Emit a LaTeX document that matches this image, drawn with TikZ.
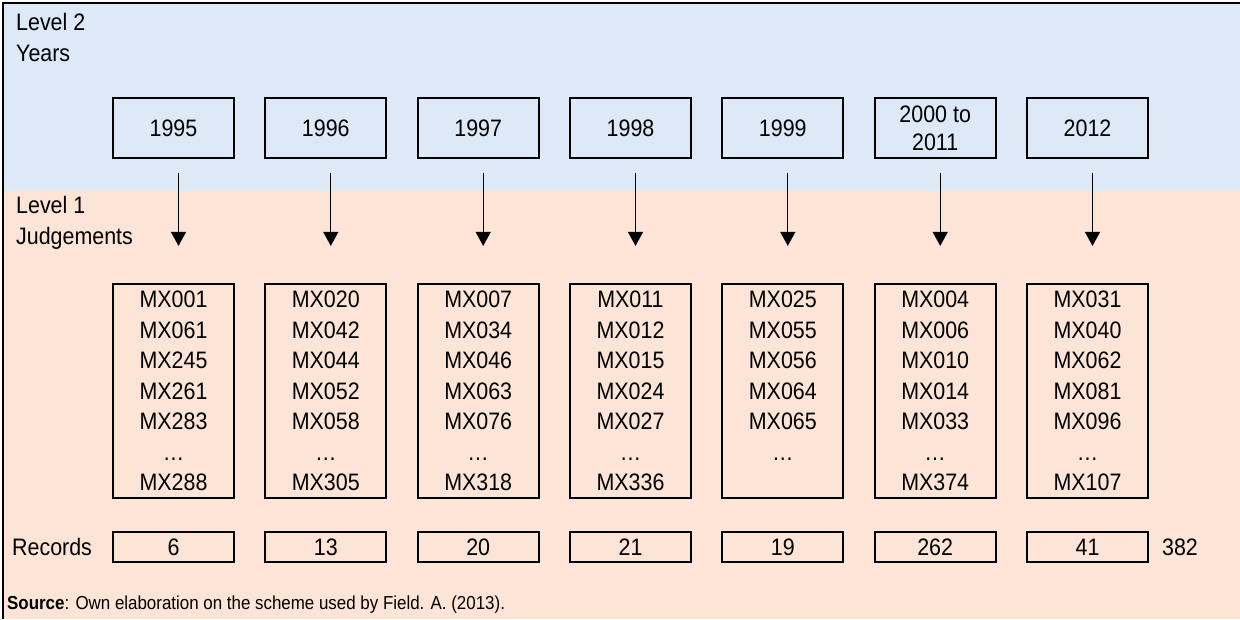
\documentclass[tikz,border=0pt]{standalone}
\usepackage{fontspec}
\setmainfont{Liberation Sans}[FakeStretch=0.9]
\usetikzlibrary{arrows.meta}

\definecolor{yearblue}{HTML}{DDE9F6}
\definecolor{judgepeach}{HTML}{FCE4D7}

\tikzset{
  yearbox/.style={draw, line width=2.2pt, minimum width=121pt, minimum height=60pt,
    inner sep=0pt, align=center, font=\fontsize{23.8}{28}\selectfont},
  judgebox/.style={draw, line width=2.2pt, minimum width=121pt, minimum height=214pt,
    inner sep=0pt, align=center, font=\fontsize{23.8}{30.5}\selectfont},
  recbox/.style={draw, line width=2.2pt, minimum width=121pt, minimum height=30pt,
    inner sep=0pt, font=\fontsize{23.8}{26}\selectfont},
  levellabel/.style={anchor=west, align=left, inner sep=0pt, font=\fontsize{23.8}{31}\selectfont},
  yeararrow/.style={-{Triangle[width=15pt,length=14pt]}, line width=1.3pt,
    shorten <=14pt, shorten >=37pt}
}

\begin{document}
\begin{tikzpicture}[x=1pt,y=-1pt]
\useasboundingbox (0,0) rectangle (1240,619);

%Bands
\fill[yearblue] (3,3) rectangle (1240,191);
\fill[judgepeach] (3,191) rectangle (1240,619);
\draw[line width=2.5pt] (3,619) -- (3,3) -- (1240,3);

%Labels
\node[levellabel] (level2) at (16,37) {Level 2\\Years};
\node[levellabel] (level1) at (16,223) {Level 1\\Judgements};
\node[levellabel] (records) at (12,547) {Records};

%Nodes
\node[yearbox] (yr1995) at (173.5,128) {1995};
\node[judgebox] (mx1995) at (173.5,391) {MX001\\MX061\\MX245\\MX261\\MX283\\…\\MX288};
\node[recbox] (rec1995) at (173.5,547) {6};

\node[yearbox] (yr1996) at (325.8,128) {1996};
\node[judgebox] (mx1996) at (325.8,391) {MX020\\MX042\\MX044\\MX052\\MX058\\…\\MX305};
\node[recbox] (rec1996) at (325.8,547) {13};

\node[yearbox] (yr1997) at (478.2,128) {1997};
\node[judgebox] (mx1997) at (478.2,391) {MX007\\MX034\\MX046\\MX063\\MX076\\…\\MX318};
\node[recbox] (rec1997) at (478.2,547) {20};

\node[yearbox] (yr1998) at (630.5,128) {1998};
\node[judgebox] (mx1998) at (630.5,391) {MX011\\MX012\\MX015\\MX024\\MX027\\…\\MX336};
\node[recbox] (rec1998) at (630.5,547) {21};

\node[yearbox] (yr1999) at (782.8,128) {1999};
\node[judgebox] (mx1999) at (782.8,391) {MX025\\MX055\\MX056\\MX064\\MX065\\…\\\phantom{MX000}};
\node[recbox] (rec1999) at (782.8,547) {19};

\node[yearbox] (yr2000) at (935.2,128) {2000 to\\2011};
\node[judgebox] (mx2000) at (935.2,391) {MX004\\MX006\\MX010\\MX014\\MX033\\…\\MX374};
\node[recbox] (rec2000) at (935.2,547) {262};

\node[yearbox] (yr2012) at (1087.5,128) {2012};
\node[judgebox] (mx2012) at (1087.5,391) {MX031\\MX040\\MX062\\MX081\\MX096\\…\\MX107};
\node[recbox] (rec2012) at (1087.5,547) {41};

\node[inner sep=0pt, font=\fontsize{23.8}{26}\selectfont] (total) at (1180,547) {382};

\node[anchor=west, inner sep=0pt, font=\fontsize{18.8}{22}\selectfont] (source) at (7,605)
  {\textbf{Source}: Own elaboration on the scheme used by Field. A. (2013).};

%Lines
\draw[yeararrow] ([xshift=5pt]yr1995.south) -- ([xshift=5pt]mx1995.north);
\draw[yeararrow] ([xshift=5pt]yr1996.south) -- ([xshift=5pt]mx1996.north);
\draw[yeararrow] ([xshift=5pt]yr1997.south) -- ([xshift=5pt]mx1997.north);
\draw[yeararrow] ([xshift=5pt]yr1998.south) -- ([xshift=5pt]mx1998.north);
\draw[yeararrow] ([xshift=5pt]yr1999.south) -- ([xshift=5pt]mx1999.north);
\draw[yeararrow] ([xshift=5pt]yr2000.south) -- ([xshift=5pt]mx2000.north);
\draw[yeararrow] ([xshift=5pt]yr2012.south) -- ([xshift=5pt]mx2012.north);
\end{tikzpicture}
\end{document}
